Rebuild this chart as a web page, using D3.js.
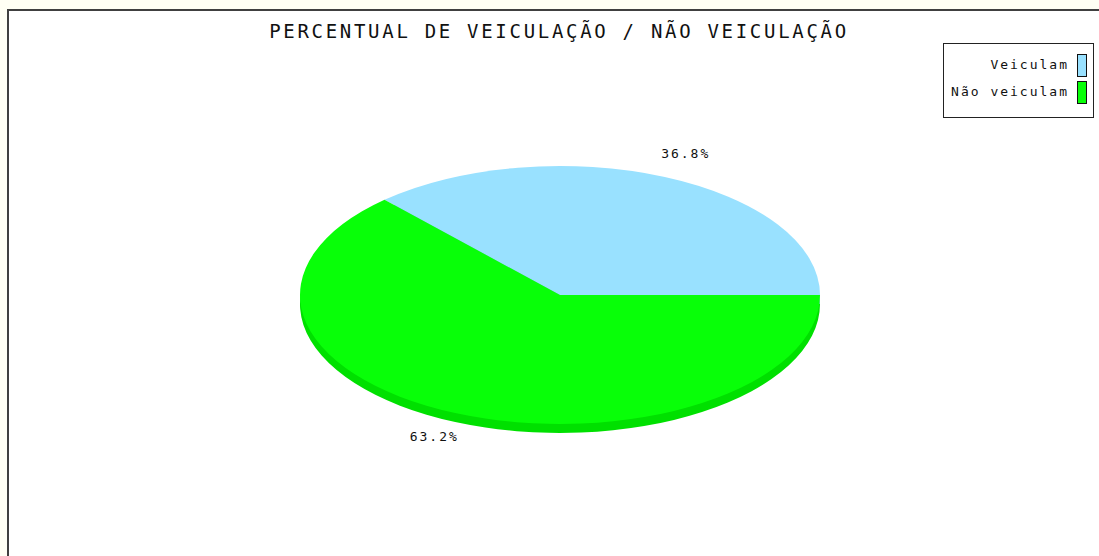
<!DOCTYPE html>
<html>
<head>
<meta charset="utf-8">
<script src="https://cdn.jsdelivr.net/npm/d3@7"></script>
<style>
  html, body { margin: 0; padding: 0; background: #fffff4; }
  svg { display: block; }
  text { font-family: "DejaVu Sans Mono", "Liberation Mono", monospace; fill: #111; }
</style>
</head>
<body>
<svg></svg>
<script>
const [w, h] = [1099, 556];

// chart data
const title = 'PERCENTUAL DE VEICULAÇÃO / NÃO VEICULAÇÃO';
const categories = ['Veiculam', 'Não veiculam'];
const values = [36.8, 63.2];
const colors = ['#99e1ff', '#08ff08'];
const sideColors = ['#7cc3e0', '#00e000'];

const [cx, cy, rx, ry, depth] = [560, 295, 260, 129, 9];

const svg = d3.select('svg')
    .attr('width', w)
    .attr('height', h);

// panel + frame
svg.append('rect')
    .attr('x', 8).attr('y', 10)
    .attr('width', 1200).attr('height', 700)
    .attr('fill', '#fff')
    .attr('stroke', '#404040')
    .attr('stroke-width', 2);

svg.append('text')
    .attr('x', 559)
    .attr('y', 38)
    .attr('text-anchor', 'middle')
    .style('font-size', '19px')
    .style('letter-spacing', '2.7px')
    .text(title);

// pie: start at 3 o'clock, going counter-clockwise
const data = categories.map((c, i) => ({name: c, value: values[i], i}));
const pie = d3.pie()
    .sort(null)
    .value(d => d.value)
    .startAngle(Math.PI / 2)
    .endAngle(Math.PI / 2 - 2 * Math.PI);
const arcs = pie(data);

const arc = d3.arc().innerRadius(0).outerRadius(1);

const sides = svg.append('g')
    .attr('transform', `translate(${cx}, ${cy + depth}) scale(${rx}, ${ry})`);
sides.selectAll('path')
    .data(arcs)
    .enter()
    .append('path')
        .attr('d', arc)
        .attr('fill', d => sideColors[d.data.i]);

const tops = svg.append('g')
    .attr('transform', `translate(${cx}, ${cy}) scale(${rx}, ${ry})`);
tops.selectAll('path')
    .data(arcs)
    .enter()
    .append('path')
        .attr('d', arc)
        .attr('fill', d => colors[d.data.i]);

// percent labels
const k = 1.2;
svg.selectAll('text.lbl')
    .data(arcs)
    .enter()
    .append('text')
        .attr('class', 'lbl')
        .attr('x', d => {
            const a = (d.startAngle + d.endAngle) / 2;
            return cx + rx * k * Math.sin(a);
        })
        .attr('y', d => {
            const a = (d.startAngle + d.endAngle) / 2;
            return cy - ry * k * Math.cos(a);
        })
        .attr('dy', '0.35em')
        .attr('text-anchor', 'middle')
        .style('font-size', '13px')
        .style('letter-spacing', '2px')
        .text(d => d.data.value.toFixed(1) + '%');

// legend
const lg = svg.append('g');
lg.append('rect')
    .attr('x', 943.5).attr('y', 43.5)
    .attr('width', 150).attr('height', 74)
    .attr('fill', '#fff')
    .attr('stroke', '#222')
    .attr('stroke-width', 1);

const items = lg.selectAll('g.item')
    .data(categories)
    .enter()
    .append('g')
        .attr('class', 'item')
        .attr('transform', (d, i) => `translate(0, ${i * 27})`);

items.append('rect')
    .attr('x', 1077.5).attr('y', 54.5)
    .attr('width', 9).attr('height', 22)
    .attr('fill', (d, i) => colors[i])
    .attr('stroke', '#111');

items.append('text')
    .attr('x', 1069)
    .attr('y', 69)
    .attr('text-anchor', 'end')
    .style('font-size', '13px')
    .style('letter-spacing', '2px')
    .text(d => d);
</script>
</body>
</html>
